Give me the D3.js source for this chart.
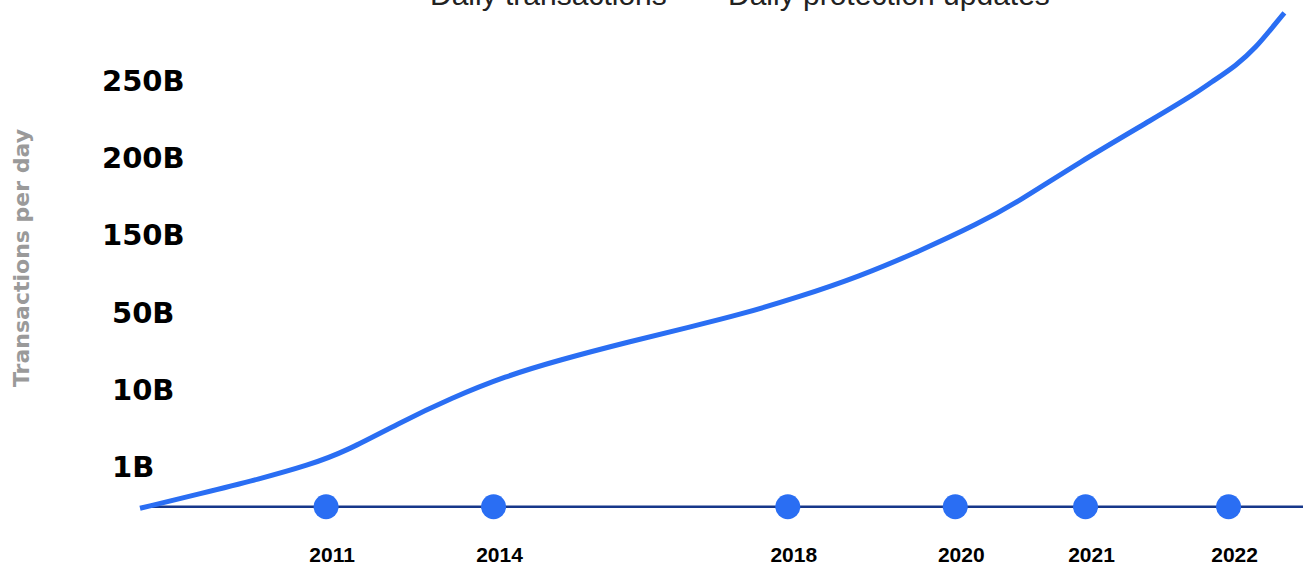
<!DOCTYPE html>
<html>
<head>
<meta charset="utf-8">
<script src="https://cdn.jsdelivr.net/npm/d3@7"></script>
<style>
    body { margin: 0; background: #fff; overflow: hidden; }
</style>
</head>
<body>
<script>
var width = 1303,
    height = 568;

// legend entries (cut off at the top in the original)
var legendLabels = ["Daily transactions", "Daily protection updates"];

// y tick labels, one per level (not a real linear scale in the original)
var tickLevels = [1, 2, 3, 4, 5, 6];
var tickLabels = ["1B", "10B", "50B", "150B", "200B", "250B"];

// milestone years on the timeline, position in timeline units (0-100)
var years = ["2011", "2014", "2018", "2020", "2021", "2022"];
var yearPos = [16.0, 30.4, 55.7, 70.1, 81.3, 93.6];
var timelineLevel = 0.47;

// growth curve: timeline position / level
var curveX = [0, 5.2, 10.3, 14.5, 17.6, 22.2, 26.8, 31.4, 36.0, 42.1, 47.3, 51.6,
    56.7, 61.8, 67.0, 72.1, 75.5, 80.6, 87.4, 90.8, 92.0, 94.3, 96.0, 97.3, 98.4];
var curveY = [0.45, 0.64, 0.83, 1.01, 1.18, 1.55, 1.88, 2.16, 2.37, 2.61, 2.80, 2.96,
    3.19, 3.45, 3.78, 4.14, 4.42, 4.92, 5.52, 5.83, 5.96, 6.19, 6.43, 6.67, 6.87];

var margin = { left: 140, right: 0, top: 80, bottom: 25 };

var x = d3.scaleLinear()
    .domain([0, 100])
    .range([margin.left, width - margin.right]);

var y = d3.scaleLinear()
    .domain([0, 6])
    .range([height - margin.bottom, margin.top]);

var svg = d3.select("body").append("svg")
    .attr("width", width)
    .attr("height", height);

// legend
svg.selectAll(".legend")
    .data(legendLabels)
    .enter().append("text")
    .attr("class", "legend")
    .attr("x", function(d, i) { return i === 0 ? 430 : 728; })
    .attr("y", 5)
    .style("font-family", "'Liberation Sans', Arial, sans-serif")
    .style("font-size", "30px")
    .style("fill", "#222")
    .text(function(d) { return d; });

// y axis title
svg.append("text")
    .attr("transform", "translate(29," + 258 + ") rotate(-90)")
    .attr("text-anchor", "middle")
    .style("font-family", "'DejaVu Sans', sans-serif")
    .style("font-weight", "bold")
    .style("font-size", "22px")
    .style("fill", "#9a9a9a")
    .text("Transactions per day");

// y tick labels
svg.selectAll(".ytick")
    .data(tickLevels)
    .enter().append("text")
    .attr("class", "ytick")
    .attr("x", function(d, i) { return tickLabels[i].length < 4 ? 112 : 102; })
    .attr("y", function(d) { return y(d) + 11; })
    .style("font-family", "'DejaVu Sans', sans-serif")
    .style("font-weight", "bold")
    .style("font-size", "29px")
    .style("fill", "#000")
    .text(function(d, i) { return tickLabels[i]; });

// timeline
svg.append("line")
    .attr("x1", x(1))
    .attr("x2", x(100))
    .attr("y1", y(timelineLevel))
    .attr("y2", y(timelineLevel))
    .style("stroke", "#16378a")
    .style("stroke-width", "2.5");

// curve
var line = d3.line()
    .x(function(d) { return x(d[0]); })
    .y(function(d) { return y(d[1]); })
    .curve(d3.curveBasis);

svg.append("path")
    .datum(d3.zip(curveX, curveY))
    .attr("d", line)
    .style("fill", "none")
    .style("stroke", "#2a6ef3")
    .style("stroke-width", "5");

// milestone dots
svg.selectAll("circle")
    .data(yearPos)
    .enter().append("circle")
    .attr("cx", function(d) { return x(d); })
    .attr("cy", y(timelineLevel))
    .attr("r", 12.5)
    .style("fill", "#2a6ef3");

// year labels
svg.selectAll(".year")
    .data(yearPos)
    .enter().append("text")
    .attr("class", "year")
    .attr("x", function(d) { return x(d) + 6; })
    .attr("y", 562)
    .attr("text-anchor", "middle")
    .style("font-family", "'Liberation Sans', Arial, sans-serif")
    .style("font-weight", "bold")
    .style("font-size", "21px")
    .style("fill", "#000")
    .text(function(d, i) { return years[i]; });
</script>
</body>
</html>
